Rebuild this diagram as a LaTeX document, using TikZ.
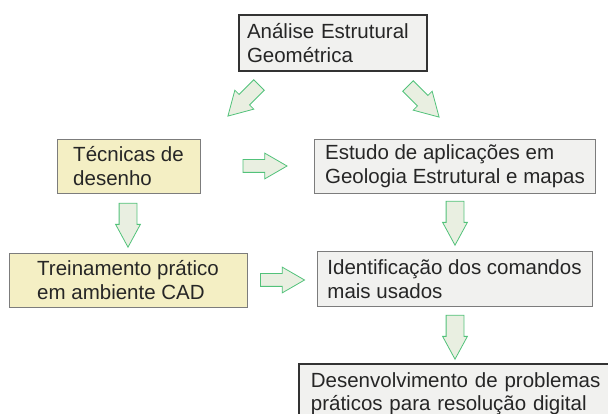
\documentclass[tikz,border=0pt]{standalone}
\usepackage{fontspec}
\setmainfont{Liberation Sans}
\usetikzlibrary{shapes.arrows}
\definecolor{boxgrey}{HTML}{F1F1EF}
\definecolor{boxyellow}{HTML}{F4EFC4}
\definecolor{edgegrey}{HTML}{7C7C7C}
\definecolor{edgedark}{HTML}{333333}
\definecolor{arrowfill}{HTML}{E9EFE1}
\definecolor{arrowgreen}{HTML}{52C27A}
\begin{document}
\begin{tikzpicture}[x=1pt, y=-1pt,
    every node/.style={font=\fontsize{20.5}{23.5}\selectfont, text=black!85},
    greybox/.style={rectangle, draw=edgegrey, line width=0.9pt, fill=boxgrey, align=left, inner sep=0pt},
    yellowbox/.style={greybox, fill=boxyellow},
    darkbox/.style={greybox, draw=edgedark, line width=1.8pt},
    harrow/.style={single arrow, draw=arrowgreen, fill=arrowfill, line width=0.8pt, inner sep=0pt, inner ysep=6pt, minimum height=44pt, single arrow head extend=6.5pt, single arrow tip angle=60, single arrow head indent=0pt},
    varrow/.style={harrow, inner ysep=8.5pt, single arrow head extend=3.5pt, single arrow tip angle=57, rotate=-90},
    darrow/.style={harrow, inner ysep=7pt, single arrow head extend=6pt}]

    \clip (0,0) rectangle (608,414);

    % Top box
    \node (ana) [darkbox, minimum height=56pt, text width=172pt, inner xsep=8pt] at (333,43) {Análise Estrutural\\Geométrica};
    \node (a1) [darrow, rotate=225] at (248,96) {};
    \node (a2) [darrow, rotate=-45] at (419,97) {};

    % Second row
    \node (tec) [yellowbox, minimum width=143pt, minimum height=54pt] at (128.5,166) {Técnicas de\\desenho};
    \node (est) [greybox, minimum width=281pt, minimum height=54pt] at (455,166) {Estudo de aplicações em\\Geologia Estrutural e mapas};
    \node (a3) [harrow] at (259.5,166) {};

    % Down arrows
    \node (a4) [varrow] at (128,217) {};
    \node (a5) [varrow] at (455,215) {};

    % Third row
    \node (tre) [yellowbox, minimum width=238pt, minimum height=54pt] at (128,280) {Treinamento prático\\em ambiente CAD};
    \node (ide) [greybox, minimum width=275pt, minimum height=55pt] at (454.5,279) {Identificação dos comandos\\mais usados};
    \node (a6) [harrow] at (277,280) {};

    % Last box
    \node (a7) [varrow] at (455,329) {};
    \node (des) [darkbox, anchor=north west, text width=300pt, inner xsep=12pt, inner ysep=5pt, minimum height=60pt] at (298,363) {Desenvolvimento de problemas\\práticos para resolução digital};

\end{tikzpicture}
\end{document}
